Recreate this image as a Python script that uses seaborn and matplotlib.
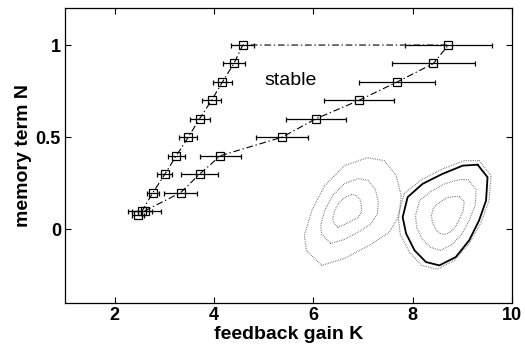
import numpy as np
import pandas as pd
import seaborn as sns
import matplotlib.pyplot as plt

# boundary points (low-K side)
left_K = [2.47, 2.55, 2.77, 3.01, 3.24, 3.48, 3.71, 3.95, 4.17, 4.40, 4.58]
left_N = [0.08, 0.10, 0.20, 0.30, 0.40, 0.50, 0.60, 0.70, 0.80, 0.90, 1.00]
left_err = [0.12, 0.20, 0.13, 0.15, 0.17, 0.18, 0.20, 0.20, 0.20, 0.22, 0.23]

# boundary points (high-K side)
right_K = [2.60, 3.33, 3.71, 4.13, 5.37, 6.05, 6.92, 7.69, 8.42, 8.72]
right_N = [0.10, 0.20, 0.30, 0.40, 0.50, 0.60, 0.70, 0.80, 0.90, 1.00]
right_err = [0.34, 0.33, 0.37, 0.41, 0.53, 0.61, 0.70, 0.77, 0.84, 0.87]

# inset: stabilised orbit (solid) and attractor loops (dotted)
orbit_K = [9.31, 9.51, 9.48, 9.34, 9.14, 8.87, 8.54, 8.27, 8.04, 7.87, 7.80, 7.90, 8.20, 8.60, 9.01]
orbit_N = [0.351, 0.283, 0.157, 0.049, -0.059, -0.150, -0.195, -0.177, -0.114, -0.023, 0.066, 0.175, 0.247, 0.301, 0.346]

r_out_K = [9.34, 9.58, 9.54, 9.38, 9.14, 8.84, 8.50, 8.18, 7.94, 7.75, 7.71, 7.83, 8.18, 8.62, 9.04]
r_out_N = [0.373, 0.292, 0.157, 0.038, -0.076, -0.168, -0.216, -0.195, -0.124, -0.027, 0.076, 0.195, 0.270, 0.330, 0.373]
r_mid_K = [9.12, 9.28, 9.26, 9.14, 9.00, 8.80, 8.56, 8.36, 8.20, 8.08, 8.06, 8.14, 8.36, 8.66, 8.94]
r_mid_N = [0.270, 0.216, 0.130, 0.049, -0.022, -0.081, -0.114, -0.097, -0.054, 0.011, 0.076, 0.157, 0.205, 0.249, 0.270]
r_in_K = [8.94, 9.04, 9.02, 8.96, 8.88, 8.78, 8.66, 8.54, 8.46, 8.40, 8.38, 8.42, 8.54, 8.70, 8.84]
r_in_N = [0.178, 0.151, 0.103, 0.065, 0.022, -0.011, -0.027, -0.022, 0.005, 0.038, 0.076, 0.119, 0.146, 0.173, 0.178]

l_out_K = [6.17, 5.86, 5.82, 5.97, 6.23, 6.63, 7.09, 7.43, 7.67, 7.77, 7.73, 7.53, 7.13, 6.63]
l_out_N = [-0.195, -0.114, -0.032, 0.103, 0.238, 0.346, 0.389, 0.373, 0.292, 0.184, 0.076, -0.016, -0.086, -0.157]
l_mid_K = [6.35, 6.17, 6.15, 6.23, 6.39, 6.63, 6.91, 7.11, 7.25, 7.31, 7.29, 7.17, 6.93, 6.63]
l_mid_N = [-0.076, -0.027, 0.022, 0.103, 0.184, 0.249, 0.276, 0.265, 0.216, 0.151, 0.086, 0.032, -0.011, -0.054]
l_in_K = [6.49, 6.41, 6.39, 6.43, 6.51, 6.63, 6.77, 6.87, 6.95, 6.97, 6.97, 6.91, 6.79, 6.63]
l_in_N = [0.011, 0.038, 0.059, 0.103, 0.141, 0.173, 0.189, 0.184, 0.157, 0.124, 0.097, 0.065, 0.049, 0.027]

sns.set_theme(style="ticks")
plt.rcParams['font.family'] = ['Liberation Sans', 'DejaVu Sans']
plt.rcParams['text.color'] = 'black'
plt.rcParams['axes.labelcolor'] = 'black'

fig = plt.figure(figsize=(5.25, 3.55), dpi=100)
ax = fig.add_axes([0.124, 0.146, 0.851, 0.831])

# boundary line: up the high-K side, across the top, down the low-K side
bnd = pd.DataFrame({
    "K": right_K + left_K[::-1],
    "N": right_N + left_N[::-1],
})
sns.lineplot(data=bnd, x="K", y="N", sort=False, ax=ax, color="black",
             linewidth=0.8, dashes=False, estimator=None)
ax.lines[-1].set_dashes((6, 2.5, 1.2, 2.5))

for K, N, e in [(left_K, left_N, left_err), (right_K, right_N, right_err)]:
    ax.errorbar(K, N, xerr=e, fmt="s", color="black", mfc="none", ms=5.5,
                mew=0.9, elinewidth=0.9, capsize=1.8, capthick=0.8, zorder=3)

# attractor inset
for lk, ln in [(r_out_K, r_out_N), (r_mid_K, r_mid_N), (r_in_K, r_in_N),
               (l_out_K, l_out_N), (l_mid_K, l_mid_N), (l_in_K, l_in_N)]:
    loop = pd.DataFrame({"K": lk + lk[:1], "N": ln + ln[:1]})
    sns.lineplot(data=loop, x="K", y="N", sort=False, estimator=None, ax=ax,
                 color="0.2", linewidth=0.8, linestyle=(0, (0.5, 1.1)))

orb = pd.DataFrame({"K": orbit_K + orbit_K[:1], "N": orbit_N + orbit_N[:1]})
sns.lineplot(data=orb, x="K", y="N", sort=False, estimator=None, ax=ax,
             color="black", linewidth=1.3)

ax.text(5.54, 0.81, "stable", fontsize=14, ha="center", va="center", color="black")

ax.set_xlim(1, 10)
ax.set_ylim(-0.4, 1.2)
ax.set_xticks([2, 4, 6, 8, 10])
ax.set_yticks([0, 0.5, 1])
ax.set_yticklabels(["0", "0.5", "1"])
ax.tick_params(direction="in", top=True, right=True, length=4, width=0.8,
               labelsize=13, colors="black", pad=3)
for lab in ax.get_xticklabels() + ax.get_yticklabels():
    lab.set_fontweight("bold")
for s in ax.spines.values():
    s.set_linewidth(0.9)
    s.set_color("black")

ax.set_xlabel("feedback gain K", fontsize=14, fontweight="bold", labelpad=1)
ax.set_ylabel("memory term N", fontsize=14, fontweight="bold", labelpad=3)

fig.savefig("out.png", dpi=100)
